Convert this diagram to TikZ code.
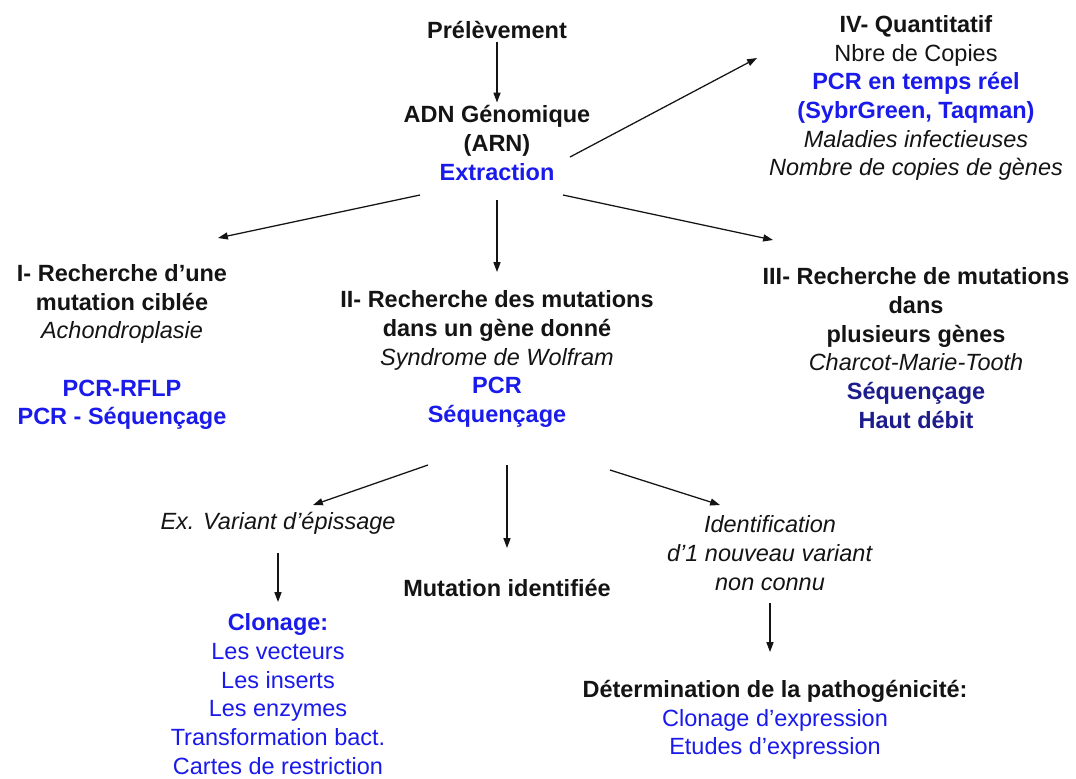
\documentclass[tikz,border=0pt]{standalone}
\usepackage{fontspec}
\setmainfont{Liberation Sans}
\usetikzlibrary{arrows.meta}
\definecolor{bleu}{RGB}{26,26,235}
\definecolor{marine}{RGB}{28,28,140}
\definecolor{encre}{RGB}{20,20,20}

\begin{document}
\begin{tikzpicture}[
        x=0.025cm, y=-0.025cm,
        every node/.style={font=\fontsize{16.7}{20.4}\selectfont, align=center, inner sep=2pt, text=encre},
        fleche/.style={-{Triangle[length=7pt, width=5pt]}, line width=0.9pt, encre},
        bleugras/.style={text=bleu, font=\fontsize{16.7}{20.4}\selectfont\bfseries}
    ]
        \path[fill=white, use as bounding box] (0,0) rectangle (1076,778);

        % Tronc commun
        \node (prel) at (497,30) {\textbf{Prélèvement}};
        \node (adn) at (497,143) {\textbf{ADN Génomique}\\ \textbf{(ARN)}\\ \textcolor{bleu}{\textbf{Extraction}}};
        \draw[fleche] (prel) -- (adn);

        % IV- quantitatif
        \node (quanti) at (916,98) {\textbf{IV- Quantitatif}\\ Nbre de Copies\\
            \textcolor{bleu}{\textbf{PCR en temps réel}}\\ \textcolor{bleu}{\textbf{(SybrGreen, Taqman)}}\\
            \textit{Maladies infectieuses}\\ \textit{Nombre de copies de gènes}};
        \draw[fleche] ([shift={(73,14)}]adn.center) -- ([shift={(-159,-40)}]quanti.center);

        % Les trois recherches
        \node (rech1) at (122,347) {\textbf{I- Recherche d’une}\\ \textbf{mutation ciblée}\\ \textit{Achondroplasie}\\[20.4pt]
            \textcolor{bleu}{\textbf{PCR-RFLP}}\\ \textcolor{bleu}{\textbf{PCR - Séquençage}}};
        \node (rech2) at (497,359) {\textbf{II- Recherche des mutations}\\ \textbf{dans un gène donné}\\ \textit{Syndrome de Wolfram}\\
            \textcolor{bleu}{\textbf{PCR}}\\ \textcolor{bleu}{\textbf{Séquençage}}};
        \node (rech3) at (916,348) {\textbf{III- Recherche de mutations}\\ \textbf{dans}\\ \textbf{plusieurs gènes}\\
            \textit{Charcot-Marie-Tooth}\\ \textcolor{marine}{\textbf{Séquençage}}\\ \textcolor{marine}{\textbf{Haut débit}}};
        \draw[fleche] ([shift={(-77,52)}]adn.center) -- ([shift={(96,-109)}]rech1.center);
        \draw[fleche] ([shift={(0,57)}]adn.center) -- ([shift={(0,-87)}]rech2.center);
        \draw[fleche] ([shift={(66,52)}]adn.center) -- ([shift={(-143,-108)}]rech3.center);

        % Suite de II
        \node (epissage) at (278,523) {\textit{Ex. Variant d’épissage}};
        \node (mutid) at (507,588) {\textbf{Mutation identifiée}};
        \node (nouveau) at (770,553) {\textit{Identification}\\ \textit{d’1 nouveau variant}\\ \textit{non connu}};
        \draw[fleche] ([shift={(-69,106)}]rech2.center) -- ([shift={(35,-18)}]epissage.center);
        \draw[fleche] ([shift={(10,106)}]rech2.center) -- ([shift={(0,-40)}]mutid.center);
        \draw[fleche] ([shift={(113,111)}]rech2.center) -- ([shift={(-50,-48)}]nouveau.center);

        % Clonage
        \node (clonage) at (278,694) {\textcolor{bleu}{\textbf{Clonage:}}\\ \textcolor{bleu}{Les vecteurs}\\ \textcolor{bleu}{Les inserts}\\
            \textcolor{bleu}{Les enzymes}\\ \textcolor{bleu}{Transformation bact.}\\ \textcolor{bleu}{Cartes de restriction}};
        \draw[fleche] ([shift={(0,30)}]epissage.center) -- ([shift={(0,-92)}]clonage.center);

        % Pathogenicite
        \node (patho) at (775,720) {\textbf{Détermination de la pathogénicité:}\\ \textcolor{bleu}{Clonage d’expression}\\ \textcolor{bleu}{Etudes d’expression}};
        \draw[fleche] ([shift={(0,50)}]nouveau.center) -- ([shift={(-5,-68)}]patho.center);

    \end{tikzpicture}
\end{document}
